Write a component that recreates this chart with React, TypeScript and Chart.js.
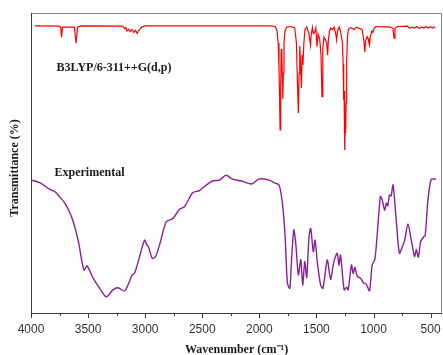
import React, { useEffect, useRef } from "react";
import { Chart, registerables } from "chart.js";

Chart.register(...registerables);

// Calculated spectrum (B3LYP/6-311++G(d,p)), wavenumber (cm-1) and transmittance (a.u.)
const calcWavenumbers: number[] = [
  3965, 3760, 3740, 3732, 3724, 3620, 3605, 3592, 3560, 3200, 3180, 3170, 3160, 3145, 3130, 3115, 3100, 3085,
  3070, 3060, 3045, 3030, 3000, 1900, 1860, 1845, 1835, 1828, 1822, 1818, 1813, 1808, 1803, 1798, 1794, 1790,
  1784, 1775, 1760, 1720, 1690, 1675, 1665, 1658, 1652, 1646, 1640, 1632, 1625, 1618, 1610, 1600, 1585, 1565,
  1552, 1545, 1535, 1528, 1515, 1505, 1495, 1485, 1471, 1460, 1451, 1444, 1434, 1420, 1410, 1402, 1395, 1385,
  1375, 1360, 1345, 1330, 1323, 1315, 1300, 1290, 1280, 1272, 1266, 1261, 1258, 1252, 1248, 1244, 1240, 1235,
  1228, 1220, 1200, 1170, 1150, 1120, 1100, 1085, 1076, 1068, 1056, 1048, 1040, 1035, 1028, 1015, 1005, 995,
  980, 900, 850, 830, 820, 812, 790, 700, 685, 660, 640, 620, 600, 580, 560, 540, 520, 500, 480, 460,
];
const calcTransmittance: number[] = [
  95.7, 95.6, 95.3, 91.9, 95.3, 95.3, 89.9, 95.3, 95.7, 95.6, 94.8, 95.2, 94.0, 94.6, 93.8, 94.5, 93.5, 94.2,
  93.2, 94.0, 94.6, 95.3, 95.7, 95.7, 95.5, 94.0, 90.0, 82.0, 70.0, 61.0, 75.0, 88.0, 86.0, 77.0, 71.3, 80.0,
  90.0, 94.0, 95.3, 95.5, 95.0, 90.0, 75.0, 66.7, 80.0, 89.0, 84.0, 75.0, 86.0, 82.7, 90.0, 94.5, 95.3, 93.0,
  89.3, 93.0, 95.2, 93.2, 93.5, 95.0, 88.8, 93.0, 91.3, 86.0, 72.1, 88.0, 92.0, 91.0, 90.0, 86.0, 91.0, 94.0,
  95.0, 94.5, 95.3, 93.0, 91.0, 94.0, 95.3, 94.0, 92.0, 90.0, 83.0, 71.0, 74.0, 54.3, 62.0, 60.0, 70.0, 84.0,
  92.0, 94.5, 95.2, 94.5, 95.3, 94.8, 94.5, 91.0, 87.0, 91.0, 92.1, 91.5, 90.0, 89.3, 92.0, 94.0, 93.5, 94.8,
  95.5, 95.4, 95.3, 94.8, 91.6, 94.8, 95.5, 95.6, 94.9, 95.3, 95.0, 95.5, 94.8, 95.3, 95.0, 95.5, 95.0, 95.4, 95.0, 95.5,
];

// Experimental spectrum
const expWavenumbers: number[] = [
  4000, 3921, 3834, 3790, 3750, 3703, 3645, 3587, 3537, 3509, 3456, 3398, 3340, 3282, 3238, 3180, 3151, 3113,
  3092, 3049, 3005, 2985, 2970, 2938, 2909, 2874, 2816, 2772, 2743, 2700, 2656, 2584, 2525, 2470, 2409, 2350,
  2292, 2234, 2147, 2068, 2001, 1914, 1856, 1827, 1798, 1774, 1754, 1733, 1716, 1698, 1681, 1658, 1637, 1620,
  1602, 1585, 1565, 1550, 1527, 1512, 1492, 1463, 1443, 1405, 1376, 1347, 1318, 1303, 1289, 1257, 1236, 1222,
  1193, 1178, 1163, 1143, 1114, 1085, 1065, 1035, 1012, 989, 969, 940, 925, 902, 887, 875, 861, 846, 829, 808,
  794, 773, 750, 727, 698, 669, 640, 625, 607, 587, 561, 547, 523, 494, 454,
];
const expTransmittance: number[] = [
  44.3, 43.4, 41.2, 40.4, 38.8, 36.6, 32.1, 24.3, 14.3, 15.7, 11.6, 8.2, 5.4, 7.7, 8.4, 7.3, 9.3, 12.7,
  13.3, 18.8, 24.3, 22.7, 22.0, 18.2, 18.8, 22.7, 30.4, 31.2, 32.1, 34.6, 35.4, 40.1, 40.8, 42.5, 44.0, 44.3,
  45.9, 44.6, 43.9, 43.0, 44.7, 44.3, 43.2, 42.7, 36.6, 25.4, 9.9, 8.2, 18.8, 27.7, 23.2, 12.7, 17.8, 9.3,
  17.1, 11.8, 25.4, 28.2, 20.4, 24.3, 16.9, 9.3, 8.2, 17.7, 11.2, 17.1, 19.9, 16.0, 19.3, 7.7, 8.6, 7.7,
  16.0, 13.2, 15.2, 12.3, 11.6, 9.9, 9.7, 7.4, 16.0, 17.7, 25.4, 38.8, 37.9, 34.3, 36.6, 35.7, 39.3, 39.0, 42.7, 34.3,
  27.7, 19.9, 21.8, 24.3, 29.7, 24.3, 18.8, 21.2, 18.6, 23.8, 25.4, 25.9, 37.7, 44.6, 44.6,
];

const majorTicks: number[] = [4000, 3500, 3000, 2500, 2000, 1500, 1000, 500];
const minorTicks: number[] = [3750, 3250, 2750, 2250, 1750, 1250, 750];
const calcLabel = "B3LYP/6-311++G(d,p)";
const expLabel = "Experimental";
const yTitle = "Transmittance (%)";

const framePlugin = {
  id: "frame",
  afterDraw(chart: any) {
    const { ctx, chartArea: a } = chart;
    const xs = chart.scales.x;
    ctx.save();
    ctx.lineWidth = 1;
    // top and right borders (light gray)
    ctx.strokeStyle = "#8a8a8a";
    ctx.beginPath();
    ctx.moveTo(a.left, a.top + 0.5);
    ctx.lineTo(a.right - 0.5, a.top + 0.5);
    ctx.lineTo(a.right - 0.5, a.bottom);
    ctx.stroke();
    // left and bottom axes (dark gray)
    ctx.strokeStyle = "#3c3c3c";
    ctx.beginPath();
    ctx.moveTo(a.left + 0.5, a.top);
    ctx.lineTo(a.left + 0.5, a.bottom + 0.5);
    ctx.lineTo(a.right, a.bottom + 0.5);
    ctx.stroke();
    // ticks
    ctx.beginPath();
    for (const v of majorTicks) {
      const px = Math.round(xs.getPixelForValue(v)) + 0.5;
      ctx.moveTo(px, a.bottom);
      ctx.lineTo(px, a.bottom + 5);
    }
    for (const v of minorTicks) {
      const px = Math.round(xs.getPixelForValue(v)) + 0.5;
      ctx.moveTo(px, a.bottom);
      ctx.lineTo(px, a.bottom + 3);
    }
    ctx.stroke();
    // series labels
    ctx.fillStyle = "#1a1a1a";
    ctx.font = "bold 12px 'Liberation Serif', 'Times New Roman', serif";
    ctx.textBaseline = "middle";
    ctx.textAlign = "left";
    ctx.fillText(calcLabel, a.left + 25.5, a.top + 55);
    ctx.fillText(expLabel, a.left + 23.5, a.top + 159.5);
    // y-axis title
    ctx.translate(15, (a.top + a.bottom) / 2 + 5);
    ctx.rotate(-Math.PI / 2);
    ctx.textAlign = "center";
    ctx.fillText(yTitle, 0, 0);
    ctx.restore();
  },
};

export default function App() {
  const ref = useRef<HTMLCanvasElement | null>(null);

  useEffect(() => {
    document.body.style.margin = "0";
    const canvas = ref.current;
    if (!canvas) return;
    const chart = new Chart(canvas, {
      type: "line",
      data: {
        datasets: [
          {
            label: "Calculated",
            data: calcWavenumbers.map((x, i) => ({ x, y: calcTransmittance[i] })),
            borderColor: "#ff0000",
            borderWidth: 1.2,
            pointRadius: 0,
            tension: 0,
            fill: false,
          },
          {
            label: "Experimental",
            data: expWavenumbers.map((x, i) => ({ x, y: expTransmittance[i] })),
            borderColor: "#8b1e9b",
            borderWidth: 1.4,
            pointRadius: 0,
            tension: 0.25,
            fill: false,
          },
        ],
      },
      options: {
        responsive: false,
        animation: false,
        devicePixelRatio: 1,
        layout: { padding: { left: 0, right: 1, top: 13, bottom: 0 } },
        plugins: { legend: { display: false }, tooltip: { enabled: false } },
        scales: {
          x: {
            type: "linear",
            reverse: true,
            min: 400,
            max: 4000,
            grid: { display: false, drawTicks: false },
            border: { display: false },
            afterBuildTicks: (scale: any) => {
              scale.ticks = majorTicks.map((v) => ({ value: v }));
            },
            afterFit: (scale: any) => {
              scale.height = 42;
              scale.paddingLeft = 0;
              scale.paddingRight = 0;
            },
            ticks: {
              autoSkip: false,
              maxRotation: 0,
              padding: 9,
              color: "#333333",
              font: { family: "'Liberation Sans', Arial, sans-serif", size: 12 },
              callback: (v: any) => String(v),
            },
            title: {
              display: true,
              text: "Wavenumber (cm\u207B\u00B9)",
              color: "#1a1a1a",
              font: { family: "'Liberation Serif', 'Times New Roman', serif", size: 12, weight: "bold" },
              padding: { top: 0, bottom: -2 },
            },
          },
          y: {
            type: "linear",
            min: 0,
            max: 100,
            grid: { display: false, drawTicks: false },
            border: { display: false },
            ticks: { display: false },
            afterFit: (scale: any) => {
              scale.width = 31;
              scale.paddingTop = 0;
              scale.paddingBottom = 0;
            },
            title: { display: false },
          },
        },
      },
      plugins: [framePlugin],
    });
    return () => chart.destroy();
  }, []);

  return (
    <div style={{ width: 443, height: 355 }}>
      <canvas ref={ref} width={443} height={355} style={{ display: "block" }} />
    </div>
  );
}
